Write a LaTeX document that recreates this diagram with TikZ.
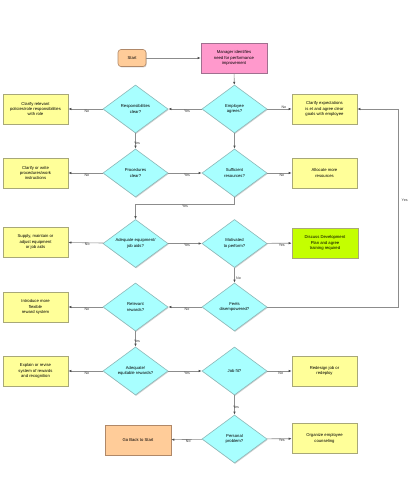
\documentclass[tikz,border=0pt]{standalone}
\usepackage{fontspec}
\setmainfont{Liberation Sans}
\usetikzlibrary{shapes.geometric,arrows.meta,shadows}
\definecolor{dfill}{HTML}{A8FFFF}
\definecolor{ddraw}{HTML}{8CB8B8}
\definecolor{yfill}{HTML}{FFFF99}
\definecolor{ydraw}{HTML}{A8A878}
\definecolor{pfill}{HTML}{FF99CC}
\definecolor{pdraw}{HTML}{A07090}
\definecolor{gfill}{HTML}{C4FF00}
\definecolor{ofill}{HTML}{FFCC99}
\definecolor{odraw}{HTML}{B08868}
\definecolor{lnc}{HTML}{8C8C8C}
\tikzset{
  base/.style={inner sep=0pt, align=center, font=\fontsize{4.2}{5.3}\selectfont, line width=0.6pt,
    drop shadow={shadow xshift=0.7pt, shadow yshift=-0.9pt, fill=black!18, opacity=1}},
  dec/.style={base, diamond, fill=dfill, draw=ddraw, minimum width=65pt, minimum height=48pt, aspect=1.35},
  ybox/.style={base, rectangle, fill=yfill, draw=ydraw, minimum width=65pt, minimum height=30pt},
  pbox/.style={base, rectangle, fill=pfill, draw=pdraw, minimum width=66pt, minimum height=30pt},
  gbox/.style={base, rectangle, fill=gfill, draw=ydraw, minimum width=66pt, minimum height=30pt},
  obox/.style={base, rectangle, fill=ofill, draw=odraw, minimum width=66pt, minimum height=30pt},
  startbox/.style={base, rectangle, rounded corners=3pt, fill=ofill, draw=odraw, minimum width=28pt, minimum height=17pt},
  conn/.style={draw=lnc, line width=0.6pt, -{Latex[length=3pt,width=2.4pt,color=black!70]}},
  lbl/.style={inner sep=0.4pt, font=\fontsize{3.6}{4}\selectfont, text=black!80},
}
\begin{document}
\begin{tikzpicture}[x=1pt,y=-1pt]
\useasboundingbox[fill=white] (0,0) rectangle (416,480);
% nodes
\node[startbox] (start) at (132,58) {Start};
\node[pbox] (mgr) at (234,58) {Manager identifies\\need for performance\\improvement};
\node[dec] (emp) at (234.5,109) {Employee\\agrees?};
\node[dec] (resp) at (135.5,109) {Responsibilities\\clear?};
\node[ybox] (clrel) at (35.5,109) {Clarify relevant\\policies/role responsibilities\\with role};
\node[ybox] (clex) at (324.5,109) {Clarify expectations\\is et and agree clear\\goals with employee};
\node[dec] (proc) at (135.5,173) {Procedures\\clear?};
\node[ybox] (clwr) at (35.5,173) {Clarify or write\\procedures/work\\instructions};
\node[dec] (suf) at (234.5,173) {Sufficient\\resources?};
\node[ybox] (alloc) at (324.5,173) {Allocate more\\resources};
\node[dec] (adeq) at (135.5,243.5) {Adequate equipment/\\job aids?};
\node[ybox] (supply) at (35.5,242) {Supply, maintain or\\adjust equipment\\or job aids};
\node[dec] (mot) at (234.5,243.5) {Motivated\\to perform?};
\node[gbox] (disc) at (325,243) {Discuss Development\\Plan and agree\\training required};
\node[dec] (feel) at (234.5,307) {Feels\\disempowered?};
\node[dec] (rel) at (135.5,307) {Relevant\\rewards?};
\node[ybox] (intro) at (35.5,307) {Introduce more\\flexible\\reward system};
\node[dec] (adeqr) at (135.5,371) {Adequate/\\equitable rewards?};
\node[ybox] (expl) at (35.5,371) {Explain or revise\\system of rewards\\and recognition};
\node[dec] (job) at (234.5,371) {Job fit?};
\node[ybox] (redes) at (324.5,371) {Redesign job or\\redeploy};
\node[dec] (pers) at (234.5,439) {Personal\\problem?};
\node[ybox] (org) at (324.5,438.5) {Organize employee\\counseling};
\node[obox] (goback) at (138,440) {Go Back to Start};
\coordinate (loop) at (398,307);
% connectors
\draw[conn] (start) -- (mgr);
\draw[conn] (mgr) -- (emp);
\draw[conn] (emp) -- node[lbl,below,pos=0.44] {Yes} (resp);
\draw[conn] (emp) -- node[lbl,above,pos=0.68] {No} (clex);
\draw[conn] (emp) -- (suf);
\draw[conn] (resp) -- node[lbl,below,pos=0.46] {No} (clrel);
\draw[conn] (resp) -- node[lbl,pos=0.65,xshift=1.5pt] {Yes} (proc);
\draw[conn] (proc) -- node[lbl,below,pos=0.46] {No} (clwr);
\draw[conn] (proc) -- node[lbl,below,pos=0.56] {Yes} (suf);
\draw[conn] (suf) -- node[lbl,below,pos=0.6] {No} (alloc);
\draw[conn] (suf.south) -- ++(0,7) -| node[lbl,below,pos=0.25] {Yes} (adeq.north);
\draw[conn] (adeq) -- node[lbl,below,pos=0.46] {No} (supply);
\draw[conn] (adeq) -- node[lbl,below,pos=0.56] {Yes} (mot);
\draw[conn] (mot) -- node[lbl,below,pos=0.6] {Yes} (disc);
\draw[conn] (mot) -- node[lbl,right,pos=0.7,xshift=1pt] {No} (feel);
\draw[conn] (feel.east) -- (loop) |- node[lbl,right,pos=0.27,xshift=3pt] {Yes} (clex.east);
\draw[conn] (feel) -- node[lbl,below,pos=0.44] {No} (rel);
\draw[conn] (rel) -- node[lbl,below,pos=0.46] {No} (intro);
\draw[conn] (rel) -- node[lbl,pos=0.65,xshift=1.5pt] {Yes} (adeqr);
\draw[conn] (adeqr) -- node[lbl,below,pos=0.46] {No} (expl);
\draw[conn] (adeqr) -- node[lbl,below,pos=0.56] {Yes} (job);
\draw[conn] (job) -- node[lbl,below,pos=0.55] {No} (redes);
\draw[conn] (job) -- node[lbl,pos=0.6,xshift=1.5pt] {Yes} (pers);
\draw[conn] (pers) -- node[lbl,below,pos=0.6] {Yes} (org);
\draw[conn] (pers) -- node[lbl,below,pos=0.45] {No} (goback);
\end{tikzpicture}
\end{document}
